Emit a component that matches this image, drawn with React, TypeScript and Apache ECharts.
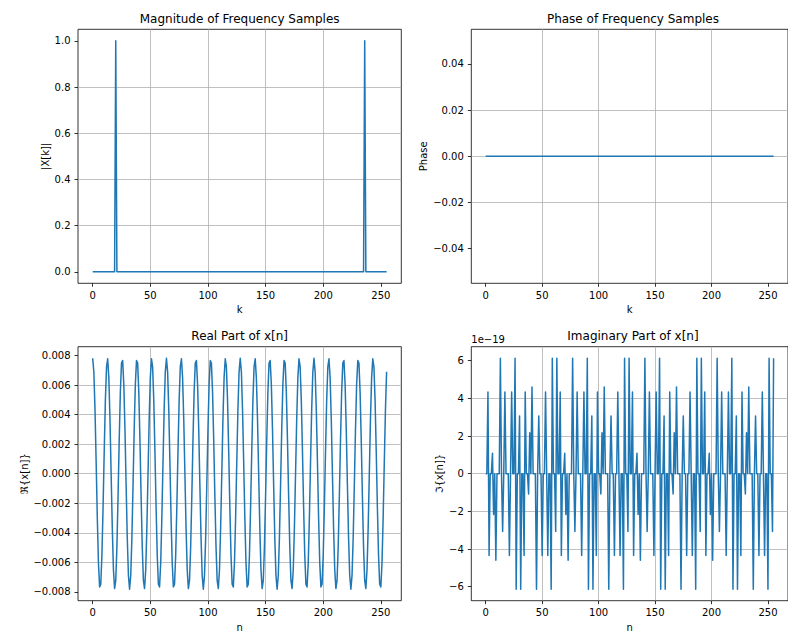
import React, { useEffect, useRef } from "react";
import * as echarts from "echarts";

// ---------- data ----------
// Magnitude |X[k]| (all other samples are 0)
const magK = [0, 19, 20, 21, 235, 236, 237, 255];
const magV = [0, 0, 1, 0, 0, 1, 0, 0];

// Phase (constant 0)
const phaseK = [0, 255];
const phaseV = [0, 0];

// Real part of x[n], n = 0..255
const realPart = [
  0.00781, 0.00689, 0.00434, 0.00077, -0.00299, -0.00604, -0.00766, -0.00748, -0.00552, -0.00227, 0.00152, 0.00496, 0.00722, 0.00777, 0.0065, 0.00368,
  0, -0.00368, -0.0065, -0.00777, -0.00722, -0.00496, -0.00152, 0.00227, 0.00552, 0.00748, 0.00766, 0.00604, 0.00299, -0.00077, -0.00434, -0.00689,
  -0.00781, -0.00689, -0.00434, -0.00077, 0.00299, 0.00604, 0.00766, 0.00748, 0.00552, 0.00227, -0.00152, -0.00496, -0.00722, -0.00777, -0.0065, -0.00368,
  0, 0.00368, 0.0065, 0.00777, 0.00722, 0.00496, 0.00152, -0.00227, -0.00552, -0.00748, -0.00766, -0.00604, -0.00299, 0.00077, 0.00434, 0.00689,
  0.00781, 0.00689, 0.00434, 0.00077, -0.00299, -0.00604, -0.00766, -0.00748, -0.00552, -0.00227, 0.00152, 0.00496, 0.00722, 0.00777, 0.0065, 0.00368,
  0, -0.00368, -0.0065, -0.00777, -0.00722, -0.00496, -0.00152, 0.00227, 0.00552, 0.00748, 0.00766, 0.00604, 0.00299, -0.00077, -0.00434, -0.00689,
  -0.00781, -0.00689, -0.00434, -0.00077, 0.00299, 0.00604, 0.00766, 0.00748, 0.00552, 0.00227, -0.00152, -0.00496, -0.00722, -0.00777, -0.0065, -0.00368,
  0, 0.00368, 0.0065, 0.00777, 0.00722, 0.00496, 0.00152, -0.00227, -0.00552, -0.00748, -0.00766, -0.00604, -0.00299, 0.00077, 0.00434, 0.00689,
  0.00781, 0.00689, 0.00434, 0.00077, -0.00299, -0.00604, -0.00766, -0.00748, -0.00552, -0.00227, 0.00152, 0.00496, 0.00722, 0.00777, 0.0065, 0.00368,
  0, -0.00368, -0.0065, -0.00777, -0.00722, -0.00496, -0.00152, 0.00227, 0.00552, 0.00748, 0.00766, 0.00604, 0.00299, -0.00077, -0.00434, -0.00689,
  -0.00781, -0.00689, -0.00434, -0.00077, 0.00299, 0.00604, 0.00766, 0.00748, 0.00552, 0.00227, -0.00152, -0.00496, -0.00722, -0.00777, -0.0065, -0.00368,
  0, 0.00368, 0.0065, 0.00777, 0.00722, 0.00496, 0.00152, -0.00227, -0.00552, -0.00748, -0.00766, -0.00604, -0.00299, 0.00077, 0.00434, 0.00689,
  0.00781, 0.00689, 0.00434, 0.00077, -0.00299, -0.00604, -0.00766, -0.00748, -0.00552, -0.00227, 0.00152, 0.00496, 0.00722, 0.00777, 0.0065, 0.00368,
  0, -0.00368, -0.0065, -0.00777, -0.00722, -0.00496, -0.00152, 0.00227, 0.00552, 0.00748, 0.00766, 0.00604, 0.00299, -0.00077, -0.00434, -0.00689,
  -0.00781, -0.00689, -0.00434, -0.00077, 0.00299, 0.00604, 0.00766, 0.00748, 0.00552, 0.00227, -0.00152, -0.00496, -0.00722, -0.00777, -0.0065, -0.00368,
  0, 0.00368, 0.0065, 0.00777, 0.00722, 0.00496, 0.00152, -0.00227, -0.00552, -0.00748, -0.00766, -0.00604, -0.00299, 0.00077, 0.00434, 0.00689,
];

// Imaginary part of x[n], n = 0..255, in units of 1e-19
const imagPartE19 = [
  0, 0, 4.34, -4.34, 0, 0, 1.08, -2.17, 0, -4.6, 0, 0, 0, 6.13, 0, -3.07,
  0, 4.34, 0, 0, 0, -4.34, 0, 4.34, 0, 0, 6.13, -6.13, 0, 0, 3.07, -6.13,
  0, 0, -4.34, 4.34, 0, 0, -1.08, 2.17, 0, 4.6, 0, 0, 0, -6.13, 0, 3.07,
  0, 0, -4.34, 0, 0, 4.34, 0, -4.34, 0, 0, -6.13, 6.13, 0, 0, -3.07, 6.13,
  0, 0, 4.34, -4.34, 0, 0, 1.08, -2.17, 0, -4.6, 0, 0, 0, 6.13, 0, -3.07,
  0, 4.34, 0, 0, 0, -4.34, 0, 4.34, 0, 0, 6.13, -6.13, 0, 0, 3.07, -6.13,
  0, 0, -4.34, 4.34, 0, 0, -1.08, 2.17, 0, 4.6, 0, 0, 0, -6.13, 0, 3.07,
  0, 0, -4.34, 0, 0, 4.34, 0, -4.34, 0, 0, -6.13, 6.13, 0, 0, -3.07, 6.13,
  0, 0, 4.34, -4.34, 0, 0, 1.08, -2.17, 0, -4.6, 0, 0, 0, 6.13, 0, -3.07,
  0, 4.34, 0, 0, 0, -4.34, 0, 4.34, 0, 0, 6.13, -6.13, 0, 0, 3.07, -6.13,
  0, 0, -4.34, 4.34, 0, 0, -1.08, 2.17, 0, 4.6, 0, 0, 0, -6.13, 0, 3.07,
  0, 0, -4.34, 0, 0, 4.34, 0, -4.34, 0, 0, -6.13, 6.13, 0, 0, -3.07, 6.13,
  0, 0, 4.34, -4.34, 0, 0, 1.08, -2.17, 0, -4.6, 0, 0, 0, 6.13, 0, -3.07,
  0, 4.34, 0, 0, 0, -4.34, 0, 4.34, 0, 0, 6.13, -6.13, 0, 0, 3.07, -6.13,
  0, 0, -4.34, 4.34, 0, 0, -1.08, 2.17, 0, 4.6, 0, 0, 0, -6.13, 0, 3.07,
  0, 0, -4.34, 0, 0, 4.34, 0, -4.34, 0, 0, -6.13, 6.13, 0, 0, -3.07, 6.13,
];

// tick labels
const xTicks = [0, 50, 100, 150, 200, 250];
const magTicks = [0, 0.2, 0.4, 0.6, 0.8, 1.0];
const phaseTicks = [-0.04, -0.02, 0, 0.02, 0.04];
const realTicks = [-0.008, -0.006, -0.004, -0.002, 0, 0.002, 0.004, 0.006, 0.008];
const imagTicks = [-6, -4, -2, 0, 2, 4, 6];

const titles = [
  "Magnitude of Frequency Samples",
  "Phase of Frequency Samples",
  "Real Part of x[n]",
  "Imaginary Part of x[n]",
];

// ---------- layout ----------
const FONT = "DejaVu Sans";
const LEFTS = [78, 471.3];
const TOPS = [29.3, 346.7];
const GW = 323.3;
const GH = 254;
const LINE = "#1f77b4";

const minus = (s: string) => s.replace(/-/g, "\u2212");

function autoRange(vals: number[]): [number, number] {
  let lo = Math.min(...vals);
  let hi = Math.max(...vals);
  if (hi === lo) {
    lo -= 0.05;
    hi += 0.05;
  }
  const m = (hi - lo) * 0.05;
  return [lo - m, hi + m];
}

const tickStyle = { show: true, length: 3.5, inside: false, lineStyle: { color: "#000", width: 0.8 } };
const splitStyle = { show: true, showMinLine: false, showMaxLine: false, lineStyle: { color: "#b0b0b0", width: 0.8 } };

function xAxis(gi: number, xs: number[], name: string) {
  const [mn, mx] = autoRange(xs);
  return {
    type: "value",
    gridIndex: gi,
    position: "bottom",
    min: mn,
    max: mx,
    splitNumber: 5,
    name,
    nameLocation: "middle",
    nameGap: 21.5,
    nameTextStyle: { fontFamily: FONT, fontSize: 10, color: "#000" },
    axisLine: { show: false, onZero: false },
    axisTick: { ...tickStyle, customValues: xTicks },
    axisLabel: {
      customValues: xTicks,
      margin: 7,
      fontFamily: FONT,
      fontSize: 10,
      color: "#000",
      formatter: (v: number) => minus(String(Math.round(v))),
    },
    splitLine: splitStyle,
  };
}

function yAxis(gi: number, ys: number[], ticks: number[], dec: number, split: number, name: string, gap: number) {
  const [mn, mx] = autoRange(ys);
  return {
    type: "value",
    gridIndex: gi,
    position: "left",
    min: mn,
    max: mx,
    splitNumber: split,
    name,
    nameLocation: "middle",
    nameRotate: 90,
    nameGap: gap,
    nameTextStyle: { fontFamily: FONT, fontSize: 10, color: "#000" },
    axisLine: { show: false, onZero: false },
    axisTick: { ...tickStyle, customValues: ticks },
    axisLabel: {
      customValues: ticks,
      margin: 7.5,
      fontFamily: FONT,
      fontSize: 10,
      color: "#000",
      formatter: (v: number) => {
        const s = v.toFixed(dec);
        return minus(Math.abs(v) < 1e-12 ? (0).toFixed(dec) : s);
      },
    },
    splitLine: splitStyle,
  };
}

function lineSeries(i: number, xs: number[], ys: number[]) {
  return {
    type: "line",
    xAxisIndex: i,
    yAxisIndex: i,
    data: xs.map((x, j) => [x, ys[j]]),
    showSymbol: false,
    symbol: "none",
    silent: true,
    lineStyle: { color: LINE, width: 1.5, join: "round", cap: "butt" },
  };
}

export default function App() {
  const ref = useRef<HTMLDivElement>(null);

  useEffect(() => {
    if (!ref.current) return;
    const chart = echarts.init(ref.current, undefined, { renderer: "svg" });

    const nIdx = realPart.map((_, i) => i);

    const grids = [0, 1, 2, 3].map((i) => ({
      show: true,
      left: LEFTS[i % 2],
      top: TOPS[Math.floor(i / 2)],
      width: GW,
      height: GH,
      borderColor: "#000",
      borderWidth: 0.8,
      backgroundColor: "transparent",
      containLabel: false,
    }));

    const titleOpts: any[] = titles.map((t, i) => ({
      text: t,
      left: LEFTS[i % 2] + GW / 2,
      top: TOPS[Math.floor(i / 2)] - 16.8,
      textAlign: "center",
      padding: 0,
      textStyle: { fontFamily: FONT, fontSize: 12, fontWeight: "normal", color: "#000" },
    }));
    titleOpts.push({
      text: "1e\u221219",
      left: LEFTS[1],
      top: TOPS[1] - 11.9,
      textAlign: "left",
      padding: 0,
      textStyle: { fontFamily: FONT, fontSize: 10, fontWeight: "normal", color: "#000" },
    });

    chart.setOption({
      animation: false,
      backgroundColor: "#fff",
      title: titleOpts,
      grid: grids,
      xAxis: [
        xAxis(0, magK, "k"),
        xAxis(1, phaseK, "k"),
        xAxis(2, nIdx, "n"),
        xAxis(3, nIdx, "n"),
      ],
      yAxis: [
        yAxis(0, magV, magTicks, 1, 5, "|X[k]|", 28),
        yAxis(1, phaseV, phaseTicks, 2, 5, "Phase", 42.5),
        yAxis(2, realPart, realTicks, 3, 8, "\u211C{x[n]}", 49),
        yAxis(3, imagPartE19, imagTicks, 0, 7, "\u2111{x[n]}", 26.5),
      ],
      series: [
        lineSeries(0, magK, magV),
        lineSeries(1, phaseK, phaseV),
        lineSeries(2, nIdx, realPart),
        lineSeries(3, nIdx, imagPartE19),
      ],
    });

    return () => chart.dispose();
  }, []);

  return (
    <div
      ref={ref}
      style={{ position: "absolute", left: 0, top: 0, width: 788, height: 639, background: "#fff" }}
    />
  );
}
